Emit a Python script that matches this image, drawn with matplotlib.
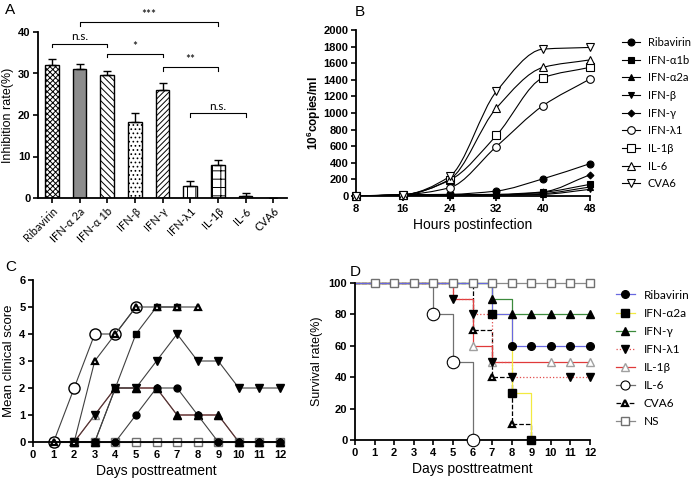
import matplotlib
matplotlib.use('Agg')
import matplotlib.pyplot as plt
import numpy as np
from matplotlib.path import Path
from matplotlib.patches import PathPatch

plt.rcParams['font.family'] = ['Liberation Sans', 'DejaVu Sans']
plt.rcParams['mathtext.fontset'] = 'custom'
plt.rcParams['mathtext.rm'] = 'Liberation Sans'
plt.rcParams['mathtext.bf'] = 'Liberation Sans:bold'
plt.rcParams['hatch.linewidth'] = 0.7

# ---- panel A data
a_names = ['Ribavirin', 'IFN-α 2a', 'IFN-α 1b', 'IFN-β', 'IFN-γ', 'IFN-λ1', 'IL-1β', 'IL-6', 'CVA6']
a_vals = [32.0, 31.0, 29.7, 18.4, 26.0, 3.0, 8.0, 0.6, 0.0]
a_err = [1.5, 1.4, 0.8, 2.0, 1.8, 1.2, 1.2, 0.5, 0.0]
a_hatch = ['xxxxxx', '', '\\\\\\\\\\', '....', '//////', '||', '++', 'xxx', '']
a_fill = ['white', '#8c8c8c', 'white', 'white', 'white', 'white', 'white', 'white', 'white']
# brackets: (left bar, right bar, height, text)
a_sig = [(0, 2, 37.2, 'n.s.'), (1, 6, 42.4, '***'), (2, 4, 34.8, '*'), (4, 6, 31.6, '**'), (5, 7, 20.4, 'n.s.')]

# ---- panel B data
b_hours = [8, 16, 24, 32, 40, 48]
b_names = ['Ribavirin', 'IFN-α1b', 'IFN-α2a', 'IFN-β', 'IFN-γ', 'IFN-λ1', 'IL-1β', 'IL-6', 'CVA6']
b_ribavirin = [0, 15, 20, 60, 208, 390]
b_ifna1b = [0, 10, 15, 15, 45, 140]
b_ifna2a = [0, 10, 12, 12, 30, 108]
b_ifnb = [0, 10, 10, 10, 20, 80]
b_ifng = [0, 10, 15, 20, 50, 256]
b_ifnl1 = [0, 15, 100, 596, 1090, 1410]
b_il1b = [0, 15, 190, 730, 1425, 1550]
b_il6 = [0, 15, 200, 1060, 1550, 1640]
b_cva6 = [0, 15, 235, 1260, 1770, 1790]
b_series = [b_ribavirin, b_ifna1b, b_ifna2a, b_ifnb, b_ifng, b_ifnl1, b_il1b, b_il6, b_cva6]
b_marker = ['o', 's', '^', 'v', 'D', 'o', 's', '^', 'v']
b_filled = [True, True, True, True, True, False, False, False, False]
b_ms = [5, 5, 5, 5, 3.5, 5.5, 5.5, 5.5, 5.5]

# ---- panel C data (days 1..12)
c_days = list(range(1, 13))
c_ribavirin = [0, 0, 0, 0, 1, 2, 2, 1, 0, 0, 0, 0]
c_ifna2a = [0, 0, 0, 2, 4, 5, 5]
c_ifng = [0, 0, 0, 2, 2, 2, 1, 1, 1, 0, 0, 0]
c_ifnl1 = [0, 0, 1, 2, 2, 3, 4, 3, 3, 2, 2, 2]
c_il1b = [0, 0, 1, 2, 2, 2, 1, 1, 1, 0, 0, 0]
c_il6 = [0, 2, 4, 4, 5]
c_cva6 = [0, 0, 3, 4, 5, 5, 5, 5]
c_ns = [0] * 12

# ---- panel D data (survival % on days 0..12)
d_days = list(range(0, 13))
d_names = ['Ribavirin', 'IFN-α2a', 'IFN-γ', 'IFN-λ1', 'IL-1β', 'IL-6', 'CVA6', 'NS']
d_ribavirin = [100, 100, 100, 100, 100, 100, 100, 80, 60, 60, 60, 60, 60]
d_ifna2a = [100, 100, 100, 100, 100, 100, 100, 80, 30, 0]
d_ifng = [100, 100, 100, 100, 100, 100, 100, 90, 80, 80, 80, 80, 80]
d_ifnl1 = [100, 100, 100, 100, 100, 90, 80, 50, 40, 40, 40, 40, 40]
d_il1b = [100, 100, 100, 100, 100, 90, 60, 50, 50, 50, 50, 50, 50]
d_il6 = [100, 100, 100, 100, 80, 50, 0]
d_cva6 = [100, 100, 100, 100, 100, 100, 70, 40, 10, 0]
d_ns = [100] * 13
# days that carry a symbol
d_ribavirin_mk = [8, 9, 10, 11, 12]
d_ifna2a_mk = [7, 8, 9]
d_ifng_mk = [7, 8, 9, 10, 11, 12]
d_ifnl1_mk = [5, 6, 7, 8, 11, 12]
d_il1b_mk = [6, 7, 10, 11, 12]
d_il6_mk = [4, 5, 6]
d_cva6_mk = [6, 7, 8]
d_ns_mk = list(range(1, 13))


def smooth(ax, x, y, color='black', lw=0.8):
    # monotone cubic drawn as bezier path
    x = np.asarray(x, float)
    y = np.asarray(y, float)
    h = np.diff(x)
    d = np.diff(y) / h
    m = np.zeros(len(x))
    m[0] = d[0]
    m[-1] = d[-1]
    for k in range(1, len(x) - 1):
        if d[k - 1] * d[k] <= 0:
            m[k] = 0
        else:
            m[k] = 2.0 / (1.0 / d[k - 1] + 1.0 / d[k])
    verts = [(x[0], y[0])]
    codes = [Path.MOVETO]
    for k in range(len(x) - 1):
        verts += [(x[k] + h[k] / 3, y[k] + m[k] * h[k] / 3),
                  (x[k + 1] - h[k] / 3, y[k + 1] - m[k + 1] * h[k] / 3),
                  (x[k + 1], y[k + 1])]
        codes += [Path.CURVE4] * 3
    ax.add_patch(PathPatch(Path(verts, codes), facecolor='none', edgecolor=color, lw=lw))


def style(ax):
    for s in ['top', 'right']:
        ax.spines[s].set_visible(False)
    for s in ['left', 'bottom']:
        ax.spines[s].set_linewidth(1.3)
    ax.tick_params(direction='out', length=3.5, width=1.2, labelsize=8, pad=2)
    for lab in ax.get_yticklabels():
        lab.set_fontweight('bold')


fig = plt.figure(figsize=(6.96, 4.83), dpi=100)
W, H = 696.0, 483.0


def axes_px(l, t, r, b):
    return fig.add_axes([l / W, 1 - b / H, (r - l) / W, (b - t) / H])


def ylabel_at(ax, text, xpx, size):
    # xpx is the right edge of the rotated label
    ax.set_ylabel(text, fontsize=size)
    bb = ax.get_position()
    ax.yaxis.set_label_coords((xpx / W - bb.x0) / bb.width, 0.5)


# ================= A
axA = axes_px(38, 32, 287, 198)
xa = np.arange(len(a_names))
for i in range(len(a_names)):
    axA.bar(xa[i], a_vals[i], width=0.5, color=a_fill[i], edgecolor='black',
            hatch=a_hatch[i], linewidth=1.0, zorder=2)
axA.errorbar(xa, a_vals, yerr=[np.zeros(len(a_err)), a_err], fmt='none',
             ecolor='black', elinewidth=1.0, capsize=3, capthick=1.0, zorder=3)
axA.set_xlim(-0.5, 8.5)
axA.set_ylim(0, 40)
axA.set_yticks([0, 10, 20, 30, 40])
axA.set_xticks(xa)
axA.set_xticklabels(a_names, rotation=45, ha='right', rotation_mode='anchor',
                    fontsize=8, family=['Lato', 'DejaVu Sans'])
style(axA)
ylabel_at(axA, 'Inhibition rate(%)', 14, 9)
for l, r, yv, txt in a_sig:
    axA.plot([l, l, r, r], [yv - 0.9, yv, yv, yv - 0.9], color='black', lw=0.8, clip_on=False)
    axA.text((l + r) / 2, yv + 0.4, txt, ha='center', va='bottom', fontsize=8.5,
             family=['Lato', 'DejaVu Sans'])
fig.text(5 / W, 1 - 10 / H, 'A', fontsize=11, va='center')

# ================= B
axB = axes_px(356, 30, 590, 196)
handles = []
for i, ys in enumerate(b_series):
    smooth(axB, b_hours, ys)
    fc = 'black' if b_filled[i] else 'white'
    axB.plot(b_hours, ys, linestyle='none', marker=b_marker[i],
             ms=b_ms[i], mfc=fc, mec='black', mew=0.8, clip_on=False, zorder=3)
    h, = axB.plot([], [], color='black', lw=0.8, marker=b_marker[i], ms=b_ms[i],
                  mfc=fc, mec='black', mew=0.8)
    handles.append(h)
axB.set_xlim(8, 48)
axB.set_ylim(0, 2000)
axB.set_xticks(b_hours)
axB.set_yticks(range(0, 2001, 200))
style(axB)
for lab in axB.get_xticklabels():
    lab.set_fontweight('bold')
axB.set_xlabel('Hours postinfection', fontsize=10, labelpad=3)
ylabel_at(axB, r'$\mathbf{10^{6}copies/ml}$', 323, 8.5)
axB.legend(handles, b_names, loc='upper left', bbox_to_anchor=(612 / W, 1 - 27 / H),
           bbox_transform=fig.transFigure, frameon=False, handlelength=1.6,
           handletextpad=0.7, labelspacing=0.6, prop={'family': ['Lato', 'DejaVu Sans'], 'size': 8})
fig.text(355 / W, 1 - 12 / H, 'B', fontsize=11, va='center')

# ================= C
axC = axes_px(33, 280, 280, 442)
lc = '#404040'
mk = dict(clip_on=False, mew=1.0)
axC.plot(c_days, c_il1b, color='#d03030', lw=0.8, marker='^', ms=6, mfc='white', mec='#909090', **mk)
axC.plot(c_days, c_ns, color='#606060', lw=0.8, marker='s', ms=6, mfc='white', mec='#707070', **mk)
axC.plot(c_days, c_ifnl1, color=lc, lw=0.8, marker='v', ms=5.5, mfc='black', mec='black', **mk)
axC.plot(c_days, c_ifng, color=lc, lw=0.8, marker='^', ms=5.5, mfc='black', mec='black', **mk)
axC.plot(c_days, c_ribavirin, color=lc, lw=0.8, marker='o', ms=5, mfc='black', mec='black', **mk)
axC.plot(c_days[:len(c_ifna2a)], c_ifna2a, color=lc, lw=0.8, marker='s', ms=5, mfc='black', mec='black', **mk)
axC.plot(c_days[:len(c_il6)], c_il6, color=lc, lw=0.8, marker='o', ms=8, mfc='white', mec='black', **mk)
axC.plot(c_days[:len(c_cva6)], c_cva6, color=lc, lw=0.8, marker='^', ms=5, mfc='white', mec='black',
         clip_on=False, mew=1.6)
axC.set_xlim(0, 12)
axC.set_ylim(0, 6)
axC.set_xticks(range(0, 13))
axC.set_yticks(range(0, 7))
style(axC)
for lab in axC.get_xticklabels():
    lab.set_fontweight('bold')
axC.set_xlabel('Days posttreatment', fontsize=10, labelpad=3)
ylabel_at(axC, 'Mean clinical score', 15, 9.5)
fig.text(5 / W, 1 - 267 / H, 'C', fontsize=11, va='center')

# ================= D
axD = axes_px(355, 283, 590, 440)
d_list = [
    (d_ns, d_ns_mk, '#8a8a8a', '-', 's', 'white', '#707070', 5.5, 1.0),
    (d_il6, d_il6_mk, '#707070', '-', 'o', 'white', 'black', 9, 0.8),
    (d_cva6, d_cva6_mk, 'black', '--', '^', 'white', 'black', 5, 1.6),
    (d_il1b, d_il1b_mk, '#e03a3a', '-', '^', 'white', '#a0a0a0', 5.5, 1.0),
    (d_ifnl1, d_ifnl1_mk, '#e04a4a', ':', 'v', 'black', 'black', 5.5, 1.0),
    (d_ifna2a, d_ifna2a_mk, '#f2ea40', '-', 's', 'black', 'black', 5.5, 1.0),
    (d_ifng, d_ifng_mk, '#3c8a3c', '-', '^', 'black', 'black', 5.5, 1.0),
    (d_ribavirin, d_ribavirin_mk, '#6868e0', '-', 'o', 'black', 'black', 5.5, 1.0),
]
d_handles = {}
order = ['NS', 'IL-6', 'CVA6', 'IL-1β', 'IFN-λ1', 'IFN-α2a', 'IFN-γ', 'Ribavirin']
for name, (ys, mks, col, ls, m, fc, ec, ms, mw) in zip(order, d_list):
    xs = d_days[:len(ys)]
    axD.step(xs, ys, where='post', color=col, linestyle=ls, lw=0.9, clip_on=False)
    my = [ys[k] for k in mks]
    axD.plot(mks, my, linestyle='none', marker=m, ms=ms, mfc=fc, mec=ec, mew=mw, clip_on=False, zorder=3)
    h, = axD.plot([], [], color=col, linestyle=ls, lw=0.9, marker=m, ms=min(ms, 6.5), mfc=fc, mec=ec, mew=mw)
    d_handles[name] = h
axD.set_xlim(0, 12)
axD.set_ylim(0, 100)
axD.set_xticks(range(0, 13))
axD.set_yticks(range(0, 101, 20))
style(axD)
for lab in axD.get_xticklabels():
    lab.set_fontweight('bold')
axD.set_xlabel('Days posttreatment', fontsize=10, labelpad=3)
ylabel_at(axD, 'Survival rate(%)', 323, 9)
axD.legend([d_handles[n] for n in d_names], d_names, loc='upper left',
           bbox_to_anchor=(605 / W, 1 - 279 / H), bbox_transform=fig.transFigure,
           frameon=False, handlelength=1.6, handletextpad=0.8, labelspacing=0.6,
           prop={'family': ['Lato', 'DejaVu Sans'], 'size': 8.5})
fig.text(350 / W, 1 - 272 / H, 'D', fontsize=11, va='center')

fig.savefig('out.png', dpi=100)
